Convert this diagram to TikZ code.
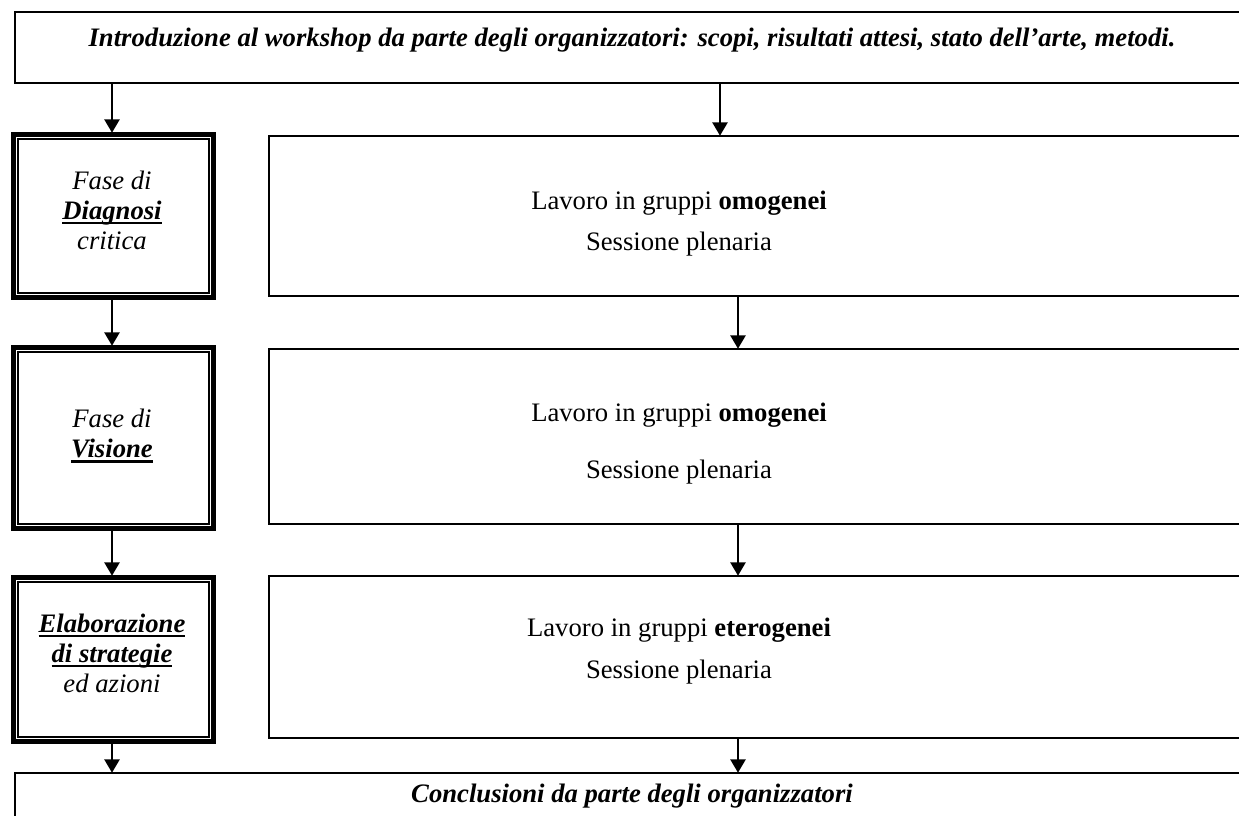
\documentclass[tikz,border=0pt]{standalone}
\usepackage{fontspec}
\setmainfont{Liberation Serif}
\usetikzlibrary{arrows.meta}
\newcommand\thul[1]{\setbox0\hbox{#1}\leavevmode\rlap{\rule[-4pt]{\wd0}{2pt}}\box0}
\begin{document}
\begin{tikzpicture}[x=0.75pt,y=-0.75pt,
  txt/.style={font=\fontsize{20}{22.5}\selectfont, align=center, inner sep=0pt},
  plainbox/.style={draw, line width=1.4pt, inner sep=0pt, anchor=north west},
  tribox/.style={draw, line width=1.5pt, inner sep=0pt, anchor=north west},
  arr/.style={line width=1.2pt, -{Triangle[width=11.5pt,length=10pt]}, shorten >=-0.5pt}
]
\useasboundingbox (0,0) rectangle (1239,816);
% top and bottom boxes
\node[plainbox, minimum width={1246*0.75pt}, minimum height={71*0.75pt}] (intro) at (14,11) {};
\node[txt, font=\fontsize{20}{22.5}\selectfont\bfseries\itshape] (introt) at (632,40) {Introduzione al workshop da parte degli organizzatori: scopi, risultati attesi, stato dell’arte, metodi.};
\node[plainbox, minimum width={1246*0.75pt}, minimum height={80*0.75pt}] (concl) at (14,772) {};
\node[txt, font=\fontsize{20}{22.5}\selectfont\bfseries\itshape] (conclt) at (632,796) {Conclusioni da parte degli organizzatori};
% left triple boxes (node border = centre of outer thin line)
\node[tribox, minimum width={203*0.75pt}, minimum height={166*0.75pt}] (b1) at (11,132) {};
\node[tribox, minimum width={203*0.75pt}, minimum height={184*0.75pt}] (b2) at (11,345) {};
\node[tribox, minimum width={203*0.75pt}, minimum height={167*0.75pt}] (b3) at (11,575) {};
\foreach \b in {b1,b2,b3}{
  \draw[line width=2.25pt] ([shift={(3.5,3.5)}]\b.north west) rectangle ([shift={(-3.5,-3.5)}]\b.south east);
  \draw[line width=1.5pt] ([shift={(7,7)}]\b.north west) rectangle ([shift={(-7,-7)}]\b.south east);
}
\node[txt, font=\fontsize{20}{22.5}\selectfont\itshape] (b1t) at (112,210) {Fase di\\\thul{\bfseries Diagnosi}\\critica};
\node[txt, font=\fontsize{20}{22.5}\selectfont\itshape] (b2t) at (112,436) {Fase di\\\thul{\bfseries Visione}};
\node[txt, font=\fontsize{20}{22.5}\selectfont\itshape] (b3t) at (112,653) {\thul{\bfseries Elaborazione}\\\thul{\bfseries di strategie}\\ed azioni};
% right boxes
\node[plainbox, minimum width={992*0.75pt}, minimum height={160*0.75pt}] (r1) at (268,135) {};
\node[plainbox, minimum width={992*0.75pt}, minimum height={175*0.75pt}] (r2) at (268,348) {};
\node[plainbox, minimum width={992*0.75pt}, minimum height={162*0.75pt}] (r3) at (268,575) {};
\node[txt] (r1a) at (679,203) {Lavoro in gruppi \textbf{omogenei}};
\node[txt] (r1b) at (679,244) {Sessione plenaria};
\node[txt] (r2a) at (679,415) {Lavoro in gruppi \textbf{omogenei}};
\node[txt] (r2b) at (679,472) {Sessione plenaria};
\node[txt] (r3a) at (679,630) {Lavoro in gruppi \textbf{eterogenei}};
\node[txt] (r3b) at (679,672) {Sessione plenaria};
% arrows
\coordinate (cl) at (112,0);
\coordinate (ca) at (720,0);
\coordinate (cb) at (738,0);
\draw[arr] (intro.south -| cl) -- (b1.north -| cl);
\draw[arr] (b1.south -| cl) -- (b2.north -| cl);
\draw[arr] (b2.south -| cl) -- (b3.north -| cl);
\draw[arr] (b3.south -| cl) -- (concl.north -| cl);
\draw[arr] (intro.south -| ca) -- (r1.north -| ca);
\draw[arr] (r1.south -| cb) -- (r2.north -| cb);
\draw[arr] (r2.south -| cb) -- (r3.north -| cb);
\draw[arr] (r3.south -| cb) -- (concl.north -| cb);
\end{tikzpicture}
\end{document}
